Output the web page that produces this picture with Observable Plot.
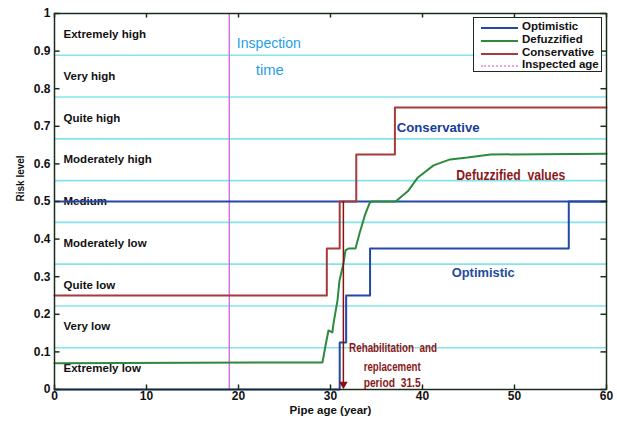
<!DOCTYPE html>
<html><head><meta charset="utf-8">
<script src="https://cdn.jsdelivr.net/npm/d3@7"></script>
<script src="https://cdn.jsdelivr.net/npm/@observablehq/plot@0.6"></script>
<style>
html,body{margin:0;padding:0;background:#fff;}
#wrap{position:relative;width:617px;height:421px;font-family:"Liberation Sans",Arial,sans-serif;}
#legend{position:absolute;left:473px;top:17px;width:127px;height:53px;border:1.5px solid #1c2c1c;background:#fff;box-sizing:content-box;}
#legend .row{position:absolute;left:0;height:13px;width:127px;}
#legend .sw{position:absolute;left:7px;top:6px;width:37px;height:0;border-top:2px solid;}
#legend .lb{position:absolute;left:48px;top:-1px;font-size:11.5px;font-weight:bold;color:#111;white-space:nowrap;line-height:13px;}
</style></head><body><div id="wrap"></div>
<script>
// ---- data ----
const xTicks = [0, 10, 20, 30, 40, 50, 60];
const yTicks = [0, 0.1, 0.2, 0.3, 0.4, 0.5, 0.6, 0.7, 0.8, 0.9, 1];
const bandLines = [1/9, 2/9, 3/9, 4/9, 5/9, 6/9, 7/9, 8/9];
const categories = ["Extremely low", "Very low", "Quite low", "Moderately low", "Medium", "Moderately high", "Quite high", "Very high", "Extremely high"];
const categoryCenters = [0.056, 0.167, 0.278, 0.389, 0.5, 0.611, 0.722, 0.833, 0.944];

const optimisticAge = [0, 31.0, 31.7, 34.3, 55.9, 60];
const optimisticRisk = [0, 0.125, 0.25, 0.375, 0.5, 0.5];

const conservativeAge = [0, 29.6, 31.0, 32.8, 37.0, 60];
const conservativeRisk = [0.25, 0.375, 0.5, 0.625, 0.75, 0.75];

const defuzzAge = [0, 29.13, 29.46, 29.78, 30.2, 30.33, 30.76, 30.98, 31.41, 31.63, 31.96, 32.72, 33.15, 33.8, 34.24, 34.46, 37.07, 38.4, 39.5, 41.2, 43.0, 44.9, 47.4, 60];
const defuzzRisk = [0.07, 0.072, 0.117, 0.157, 0.152, 0.176, 0.237, 0.29, 0.335, 0.37, 0.375, 0.375, 0.415, 0.468, 0.495, 0.5, 0.5, 0.527, 0.564, 0.596, 0.612, 0.617, 0.625, 0.627];

const inspectedAge = 19;
const rehabAge = 31.4;
const rehabFrom = 0.5;
const mediumLevel = 0.5;

const legendNames = ["Optimistic", "Defuzzified", "Conservative", "Inspected age"];

// annotations (label, x, y)
const annotations = [
  {text: "Conservative", x: 41.7, y: 0.697, color: "#1a3c96", size: 13.5, weight: "bold", len: 83},
  {text: "Optimistic", x: 46.6, y: 0.311, color: "#1e4aa0", size: 13.5, weight: "bold", len: 63},
  {text: "Defuzzified  values", x: 49.6, y: 0.569, color: "#8a1818", size: 15, weight: "bold", len: 109},
  {text: "Rehabilitation  and", x: 36.8, y: 0.112, color: "#8a1818", size: 13, weight: "bold", len: 88},
  {text: "replacement", x: 36.7, y: 0.061, color: "#8a1818", size: 13, weight: "bold", len: 57},
  {text: "period  31.5", x: 36.7, y: 0.019, color: "#8a1818", size: 13, weight: "bold", len: 57},
  {text: "Inspection", x: 23.3, y: 0.92, color: "#1fa0e8", size: 15, weight: "normal", len: 64},
  {text: "time", x: 23.4, y: 0.848, color: "#1fa0e8", size: 15, weight: "normal", len: 28}
];

// ---- colours ----
const cBlue = "#2349a6", cGreen = "#2b8a3e", cRed = "#a83a3a", cDark = "#8b1010", cInsp = "#cc77dd", cBand = "#84e4ec", cFrame = "#1c2c1c";
const legendColors = [cBlue, cGreen, cRed, "#e2a6ea"];

const opt = optimisticAge.map((x, i) => ({x, y: optimisticRisk[i]}));
const con = conservativeAge.map((x, i) => ({x, y: conservativeRisk[i]}));
const def = defuzzAge.map((x, i) => ({x, y: defuzzRisk[i]}));
const cats = categories.map((c, i) => ({c, y: categoryCenters[i]}));

const chart = Plot.plot({
  width: 617, height: 421,
  marginLeft: 54, marginRight: 11, marginTop: 13, marginBottom: 32,
  style: {fontFamily: "Liberation Sans, Arial, sans-serif", fontSize: "12px", background: "#fff"},
  x: {domain: [0, 60]},
  y: {domain: [0, 1]},
  marks: [
    Plot.ruleY(bandLines, {stroke: cBand, strokeWidth: 1.6}),
    Plot.ruleX([inspectedAge], {stroke: cInsp, strokeWidth: 1.5}),
    Plot.text(cats, {y: "y", text: "c", frameAnchor: "left", dx: 9, textAnchor: "start", fontSize: 11.5, fontWeight: "bold", fill: "#111"}),
    Plot.ruleY([mediumLevel], {stroke: cBlue, strokeWidth: 2}),
    Plot.line(con, {x: "x", y: "y", curve: "step-after", stroke: cRed, strokeWidth: 2}),
    Plot.line(def, {x: "x", y: "y", stroke: cGreen, strokeWidth: 2}),
    Plot.line(opt, {x: "x", y: "y", curve: "step-after", stroke: cBlue, strokeWidth: 2}),
    Plot.ruleX([rehabAge], {y1: rehabFrom, y2: 0.012, stroke: cDark, strokeWidth: 1.5}),
    Plot.dot([rehabAge], {x: d => d, y: 0.014, symbol: "triangle", rotate: 180, r: 3.2, fill: cDark, stroke: "none"}),
    ...annotations.map(a => Plot.text([a], {x: "x", y: "y", text: "text", fill: a.color, fontSize: a.size, fontFamily: "Liberation Sans, Arial, sans-serif", fontWeight: a.weight})),
    Plot.frame({stroke: cFrame, strokeWidth: 1.5}),
    Plot.ruleX(xTicks, {y1: 0, y2: 0.012, stroke: cFrame, strokeWidth: 1.5}),
    Plot.ruleX(xTicks, {y1: 1, y2: 0.988, stroke: cFrame, strokeWidth: 1.5}),
    Plot.ruleY(yTicks, {x1: 0, x2: 0.6, stroke: cFrame, strokeWidth: 1.5}),
    Plot.ruleY(yTicks, {x1: 60, x2: 59.4, stroke: cFrame, strokeWidth: 1.5}),
    Plot.axisX({ticks: xTicks, tickSize: 0, tickPadding: 2, label: null, fontSize: 12, fontWeight: "bold", fill: "#111"}),
    Plot.axisY({ticks: yTicks, tickSize: 0, tickPadding: 4, label: null, fontSize: 12, fontWeight: "bold", fill: "#111",
      tickFormat: d => (d === 0 || d === 1) ? String(d) : d3.format(".1f")(d)}),
    Plot.text(["Pipe age (year)"], {frameAnchor: "bottom", dy: 24, fontSize: 11.5, fontWeight: "bold", fill: "#111"}),
    Plot.text(["Risk level"], {frameAnchor: "left", dx: -34, rotate: -90, fontSize: 10, fontWeight: "bold", fill: "#111"})
  ]
});

// condense annotation texts to the widths seen in the reference
annotations.forEach(a => {
  d3.select(chart).selectAll("text").filter(function() { return this.textContent === a.text; })
    .attr("textLength", a.len).attr("lengthAdjust", "spacingAndGlyphs").style("white-space", "pre");
});

const wrap = document.getElementById("wrap");
wrap.appendChild(chart);
const leg = document.createElement("div");
leg.id = "legend";
legendNames.forEach((n, i) => {
  const row = document.createElement("div");
  row.className = "row";
  row.style.top = (3 + i * 12.8) + "px";
  const sw = document.createElement("div");
  sw.className = "sw";
  sw.style.borderTopColor = legendColors[i];
  if (i === 3) sw.style.borderTopStyle = "dotted";
  const lb = document.createElement("div");
  lb.className = "lb";
  lb.textContent = n;
  row.appendChild(sw); row.appendChild(lb);
  leg.appendChild(row);
});
wrap.appendChild(leg);
</script></body></html>
